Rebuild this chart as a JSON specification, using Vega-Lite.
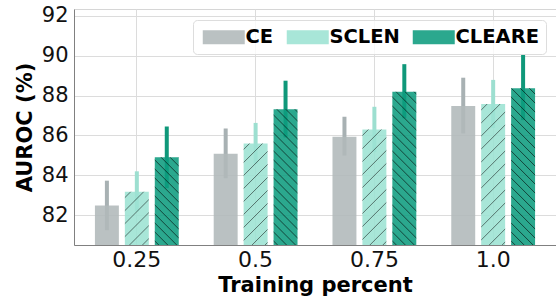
{
  "$schema": "https://vega.github.io/schema/vega-lite/v6.json",
  "autosize": {"type": "none"},
  "width": 482,
  "height": 236,
  "padding": {"left": 74, "top": 9, "right": 0, "bottom": 53},
  "background": "white",
  "config": {
    "view": {"stroke": "#d6d6d6", "strokeWidth": 1},
    "font": "DejaVu Sans"
  },
  "data": {
    "values": [
      {"pct": "0.25", "method": "CE", "mean": 82.48, "lo": 81.24, "hi": 83.73},
      {"pct": "0.25", "method": "SCLEN", "mean": 83.18, "lo": 82.18, "hi": 84.2},
      {"pct": "0.25", "method": "CLEARE", "mean": 84.9, "lo": 83.35, "hi": 86.45},
      {"pct": "0.5", "method": "CE", "mean": 85.08, "lo": 83.85, "hi": 86.35},
      {"pct": "0.5", "method": "SCLEN", "mean": 85.6, "lo": 84.57, "hi": 86.63},
      {"pct": "0.5", "method": "CLEARE", "mean": 87.32, "lo": 85.9, "hi": 88.75},
      {"pct": "0.75", "method": "CE", "mean": 85.93, "lo": 84.99, "hi": 86.94},
      {"pct": "0.75", "method": "SCLEN", "mean": 86.3, "lo": 85.16, "hi": 87.44},
      {"pct": "0.75", "method": "CLEARE", "mean": 88.2, "lo": 86.86, "hi": 89.58},
      {"pct": "1.0", "method": "CE", "mean": 87.48, "lo": 86.1, "hi": 88.9},
      {"pct": "1.0", "method": "SCLEN", "mean": 87.58, "lo": 86.37, "hi": 88.79},
      {"pct": "1.0", "method": "CLEARE", "mean": 88.37, "lo": 86.77, "hi": 90.05}
    ]
  },
  "encoding": {
    "x": {
      "field": "pct", "type": "nominal", "sort": ["0.25", "0.5", "0.75", "1.0"],
      "scale": {"paddingInner": 0.244, "paddingOuter": 0.151},
      "axis": {
        "title": "Training percent", "titleFont": "DejaVu Sans", "titleFontSize": 21, "titleFontWeight": "bold", "titleColor": "#000",
        "titlePadding": 4,
        "labelAngle": 0, "labelFont": "DejaVu Sans", "labelFontSize": 22, "labelColor": "#111", "labelPadding": 4,
        "ticks": false, "grid": true, "bandPosition": 0.5, "gridColor": "#dcdcdc", "gridWidth": 1,
        "domainColor": "#808080", "domainWidth": 1
      }
    },
    "xOffset": {
      "field": "method", "type": "nominal", "sort": ["CE", "SCLEN", "CLEARE"],
      "scale": {"paddingInner": 0.2, "paddingOuter": 0.1}
    }
  },
  "layer": [
    {
      "mark": {"type": "rule", "strokeWidth": 4},
      "encoding": {
        "y": {"field": "lo", "type": "quantitative"},
        "y2": {"field": "hi"},
        "color": {
          "condition": [
            {"test": "datum.method === 'CE'", "value": "#a8b1b3"},
            {"test": "datum.method === 'SCLEN'", "value": "#9ddfd0"}
          ],
          "value": "#0f987a"
        }
      }
    },
    {
      "mark": {"type": "bar", "fillOpacity": 0.88},
      "encoding": {
        "y": {
          "field": "mean", "type": "quantitative",
          "scale": {"domain": [80.5, 92.35], "nice": false, "zero": false},
          "axis": {
            "title": "AUROC (%)", "titleFont": "DejaVu Sans", "titleFontSize": 21, "titleFontWeight": "bold", "titleColor": "#000",
            "titlePadding": 6,
            "values": [82, 84, 86, 88, 90, 92],
            "labelFont": "DejaVu Sans", "labelFontSize": 21, "labelColor": "#111", "labelPadding": 6,
            "ticks": false, "grid": true, "gridColor": "#dcdcdc", "gridWidth": 1,
            "domainColor": "#808080", "domainWidth": 1
          }
        },
        "y2": {"datum": 80.5},
        "fill": {
          "field": "method", "type": "nominal",
          "scale": {"domain": ["CE", "SCLEN", "CLEARE"], "range": ["#b0b8b9", "#9ce3d3", "#0e9c7e"]},
          "legend": {
            "title": null, "orient": "none", "direction": "horizontal",
            "legendX": 119, "legendY": 11,
            "symbolType": "M-1,-1H5V1H-1Z", "symbolSize": 196, "symbolStrokeWidth": 0, "symbolOpacity": 0.88,
            "labelFont": "DejaVu Sans", "labelFontSize": 19.5, "labelFontWeight": "bold", "labelColor": "#000",
            "labelOffset": 26, "columnPadding": 10, "padding": 7,
            "fillColor": "rgba(255,255,255,0.8)", "strokeColor": "#dddddd", "cornerRadius": 4
          }
        }
      }
    },
    {
      "mark": {"type": "bar", "strokeWidth": 0},
      "encoding": {
        "y": {"field": "mean", "type": "quantitative"},
        "y2": {"datum": 80.5},
        "fill": {
          "condition": [
            {"test": "datum.method === 'SCLEN' && datum.pct === '0.25'", "value": {"gradient": "linear", "x1": 0, "y1": 0, "x2": 1.4017, "y2": 3.117, "stops": [
              {"offset": 0, "color": "rgba(0,0,0,0)"},
              {"offset": 0.025, "color": "rgba(0,0,0,0)"}, {"offset": 0.03, "color": "rgba(0,0,0,0.5)"}, {"offset": 0.035, "color": "rgba(0,0,0,0)"},
              {"offset": 0.09, "color": "rgba(0,0,0,0)"}, {"offset": 0.095, "color": "rgba(0,0,0,0.5)"}, {"offset": 0.1, "color": "rgba(0,0,0,0)"},
              {"offset": 0.155, "color": "rgba(0,0,0,0)"}, {"offset": 0.16, "color": "rgba(0,0,0,0.5)"}, {"offset": 0.165, "color": "rgba(0,0,0,0)"},
              {"offset": 0.22, "color": "rgba(0,0,0,0)"}, {"offset": 0.225, "color": "rgba(0,0,0,0.5)"}, {"offset": 0.23, "color": "rgba(0,0,0,0)"},
              {"offset": 0.285, "color": "rgba(0,0,0,0)"}, {"offset": 0.29, "color": "rgba(0,0,0,0.5)"}, {"offset": 0.295, "color": "rgba(0,0,0,0)"},
              {"offset": 0.35, "color": "rgba(0,0,0,0)"}, {"offset": 0.355, "color": "rgba(0,0,0,0.5)"}, {"offset": 0.36, "color": "rgba(0,0,0,0)"},
              {"offset": 0.415, "color": "rgba(0,0,0,0)"}, {"offset": 0.42, "color": "rgba(0,0,0,0.5)"}, {"offset": 0.425, "color": "rgba(0,0,0,0)"},
              {"offset": 0.48, "color": "rgba(0,0,0,0)"}, {"offset": 0.485, "color": "rgba(0,0,0,0.5)"}, {"offset": 0.49, "color": "rgba(0,0,0,0)"},
              {"offset": 1, "color": "rgba(0,0,0,0)"}
            ]}},
            {"test": "datum.method === 'SCLEN' && datum.pct === '0.5'", "value": {"gradient": "linear", "x1": 0, "y1": 0, "x2": 0.44067, "y2": 1.865, "stops": [
              {"offset": 0, "color": "rgba(0,0,0,0)"},
              {"offset": 0.025, "color": "rgba(0,0,0,0)"}, {"offset": 0.03, "color": "rgba(0,0,0,0.5)"}, {"offset": 0.035, "color": "rgba(0,0,0,0)"},
              {"offset": 0.09, "color": "rgba(0,0,0,0)"}, {"offset": 0.095, "color": "rgba(0,0,0,0.5)"}, {"offset": 0.1, "color": "rgba(0,0,0,0)"},
              {"offset": 0.155, "color": "rgba(0,0,0,0)"}, {"offset": 0.16, "color": "rgba(0,0,0,0.5)"}, {"offset": 0.165, "color": "rgba(0,0,0,0)"},
              {"offset": 0.22, "color": "rgba(0,0,0,0)"}, {"offset": 0.225, "color": "rgba(0,0,0,0.5)"}, {"offset": 0.23, "color": "rgba(0,0,0,0)"},
              {"offset": 0.285, "color": "rgba(0,0,0,0)"}, {"offset": 0.29, "color": "rgba(0,0,0,0.5)"}, {"offset": 0.295, "color": "rgba(0,0,0,0)"},
              {"offset": 0.35, "color": "rgba(0,0,0,0)"}, {"offset": 0.355, "color": "rgba(0,0,0,0.5)"}, {"offset": 0.36, "color": "rgba(0,0,0,0)"},
              {"offset": 0.415, "color": "rgba(0,0,0,0)"}, {"offset": 0.42, "color": "rgba(0,0,0,0.5)"}, {"offset": 0.425, "color": "rgba(0,0,0,0)"},
              {"offset": 0.48, "color": "rgba(0,0,0,0)"}, {"offset": 0.485, "color": "rgba(0,0,0,0.5)"}, {"offset": 0.49, "color": "rgba(0,0,0,0)"},
              {"offset": 0.545, "color": "rgba(0,0,0,0)"}, {"offset": 0.55, "color": "rgba(0,0,0,0.5)"}, {"offset": 0.555, "color": "rgba(0,0,0,0)"},
              {"offset": 0.61, "color": "rgba(0,0,0,0)"}, {"offset": 0.615, "color": "rgba(0,0,0,0.5)"}, {"offset": 0.62, "color": "rgba(0,0,0,0)"},
              {"offset": 0.675, "color": "rgba(0,0,0,0)"}, {"offset": 0.68, "color": "rgba(0,0,0,0.5)"}, {"offset": 0.685, "color": "rgba(0,0,0,0)"},
              {"offset": 1, "color": "rgba(0,0,0,0)"}
            ]}},
            {"test": "datum.method === 'SCLEN' && datum.pct === '0.75'", "value": {"gradient": "linear", "x1": 0, "y1": 0, "x2": 0.34486, "y2": 1.6598, "stops": [
              {"offset": 0, "color": "rgba(0,0,0,0)"},
              {"offset": 0.025, "color": "rgba(0,0,0,0)"}, {"offset": 0.03, "color": "rgba(0,0,0,0.5)"}, {"offset": 0.035, "color": "rgba(0,0,0,0)"},
              {"offset": 0.09, "color": "rgba(0,0,0,0)"}, {"offset": 0.095, "color": "rgba(0,0,0,0.5)"}, {"offset": 0.1, "color": "rgba(0,0,0,0)"},
              {"offset": 0.155, "color": "rgba(0,0,0,0)"}, {"offset": 0.16, "color": "rgba(0,0,0,0.5)"}, {"offset": 0.165, "color": "rgba(0,0,0,0)"},
              {"offset": 0.22, "color": "rgba(0,0,0,0)"}, {"offset": 0.225, "color": "rgba(0,0,0,0.5)"}, {"offset": 0.23, "color": "rgba(0,0,0,0)"},
              {"offset": 0.285, "color": "rgba(0,0,0,0)"}, {"offset": 0.29, "color": "rgba(0,0,0,0.5)"}, {"offset": 0.295, "color": "rgba(0,0,0,0)"},
              {"offset": 0.35, "color": "rgba(0,0,0,0)"}, {"offset": 0.355, "color": "rgba(0,0,0,0.5)"}, {"offset": 0.36, "color": "rgba(0,0,0,0)"},
              {"offset": 0.415, "color": "rgba(0,0,0,0)"}, {"offset": 0.42, "color": "rgba(0,0,0,0.5)"}, {"offset": 0.425, "color": "rgba(0,0,0,0)"},
              {"offset": 0.48, "color": "rgba(0,0,0,0)"}, {"offset": 0.485, "color": "rgba(0,0,0,0.5)"}, {"offset": 0.49, "color": "rgba(0,0,0,0)"},
              {"offset": 0.545, "color": "rgba(0,0,0,0)"}, {"offset": 0.55, "color": "rgba(0,0,0,0.5)"}, {"offset": 0.555, "color": "rgba(0,0,0,0)"},
              {"offset": 0.61, "color": "rgba(0,0,0,0)"}, {"offset": 0.615, "color": "rgba(0,0,0,0.5)"}, {"offset": 0.62, "color": "rgba(0,0,0,0)"},
              {"offset": 0.675, "color": "rgba(0,0,0,0)"}, {"offset": 0.68, "color": "rgba(0,0,0,0.5)"}, {"offset": 0.685, "color": "rgba(0,0,0,0)"},
              {"offset": 1, "color": "rgba(0,0,0,0)"}
            ]}},
            {"test": "datum.method === 'SCLEN' && datum.pct === '1.0'", "value": {"gradient": "linear", "x1": 0, "y1": 0, "x2": 0.23461, "y2": 1.3784, "stops": [
              {"offset": 0, "color": "rgba(0,0,0,0)"},
              {"offset": 0.025, "color": "rgba(0,0,0,0)"}, {"offset": 0.03, "color": "rgba(0,0,0,0.5)"}, {"offset": 0.035, "color": "rgba(0,0,0,0)"},
              {"offset": 0.09, "color": "rgba(0,0,0,0)"}, {"offset": 0.095, "color": "rgba(0,0,0,0.5)"}, {"offset": 0.1, "color": "rgba(0,0,0,0)"},
              {"offset": 0.155, "color": "rgba(0,0,0,0)"}, {"offset": 0.16, "color": "rgba(0,0,0,0.5)"}, {"offset": 0.165, "color": "rgba(0,0,0,0)"},
              {"offset": 0.22, "color": "rgba(0,0,0,0)"}, {"offset": 0.225, "color": "rgba(0,0,0,0.5)"}, {"offset": 0.23, "color": "rgba(0,0,0,0)"},
              {"offset": 0.285, "color": "rgba(0,0,0,0)"}, {"offset": 0.29, "color": "rgba(0,0,0,0.5)"}, {"offset": 0.295, "color": "rgba(0,0,0,0)"},
              {"offset": 0.35, "color": "rgba(0,0,0,0)"}, {"offset": 0.355, "color": "rgba(0,0,0,0.5)"}, {"offset": 0.36, "color": "rgba(0,0,0,0)"},
              {"offset": 0.415, "color": "rgba(0,0,0,0)"}, {"offset": 0.42, "color": "rgba(0,0,0,0.5)"}, {"offset": 0.425, "color": "rgba(0,0,0,0)"},
              {"offset": 0.48, "color": "rgba(0,0,0,0)"}, {"offset": 0.485, "color": "rgba(0,0,0,0.5)"}, {"offset": 0.49, "color": "rgba(0,0,0,0)"},
              {"offset": 0.545, "color": "rgba(0,0,0,0)"}, {"offset": 0.55, "color": "rgba(0,0,0,0.5)"}, {"offset": 0.555, "color": "rgba(0,0,0,0)"},
              {"offset": 0.61, "color": "rgba(0,0,0,0)"}, {"offset": 0.615, "color": "rgba(0,0,0,0.5)"}, {"offset": 0.62, "color": "rgba(0,0,0,0)"},
              {"offset": 0.675, "color": "rgba(0,0,0,0)"}, {"offset": 0.68, "color": "rgba(0,0,0,0.5)"}, {"offset": 0.685, "color": "rgba(0,0,0,0)"},
              {"offset": 0.74, "color": "rgba(0,0,0,0)"}, {"offset": 0.745, "color": "rgba(0,0,0,0.5)"}, {"offset": 0.75, "color": "rgba(0,0,0,0)"},
              {"offset": 0.805, "color": "rgba(0,0,0,0)"}, {"offset": 0.81, "color": "rgba(0,0,0,0.5)"}, {"offset": 0.815, "color": "rgba(0,0,0,0)"},
              {"offset": 1, "color": "rgba(0,0,0,0)"}
            ]}},
            {"test": "datum.method === 'CLEARE' && datum.pct === '0.25'", "value": {"gradient": "linear", "x1": 0, "y1": 1, "x2": 0.58146, "y2": -1.1231, "stops": [
              {"offset": 0, "color": "rgba(0,0,0,0)"},
              {"offset": 0.015, "color": "rgba(0,0,0,0)"}, {"offset": 0.02, "color": "rgba(0,0,0,0.6)"}, {"offset": 0.025, "color": "rgba(0,0,0,0)"},
              {"offset": 0.06, "color": "rgba(0,0,0,0)"}, {"offset": 0.065, "color": "rgba(0,0,0,0.6)"}, {"offset": 0.07, "color": "rgba(0,0,0,0)"},
              {"offset": 0.105, "color": "rgba(0,0,0,0)"}, {"offset": 0.11, "color": "rgba(0,0,0,0.6)"}, {"offset": 0.115, "color": "rgba(0,0,0,0)"},
              {"offset": 0.15, "color": "rgba(0,0,0,0)"}, {"offset": 0.155, "color": "rgba(0,0,0,0.6)"}, {"offset": 0.16, "color": "rgba(0,0,0,0)"},
              {"offset": 0.195, "color": "rgba(0,0,0,0)"}, {"offset": 0.2, "color": "rgba(0,0,0,0.6)"}, {"offset": 0.205, "color": "rgba(0,0,0,0)"},
              {"offset": 0.24, "color": "rgba(0,0,0,0)"}, {"offset": 0.245, "color": "rgba(0,0,0,0.6)"}, {"offset": 0.25, "color": "rgba(0,0,0,0)"},
              {"offset": 0.285, "color": "rgba(0,0,0,0)"}, {"offset": 0.29, "color": "rgba(0,0,0,0.6)"}, {"offset": 0.295, "color": "rgba(0,0,0,0)"},
              {"offset": 0.33, "color": "rgba(0,0,0,0)"}, {"offset": 0.335, "color": "rgba(0,0,0,0.6)"}, {"offset": 0.34, "color": "rgba(0,0,0,0)"},
              {"offset": 0.375, "color": "rgba(0,0,0,0)"}, {"offset": 0.38, "color": "rgba(0,0,0,0.6)"}, {"offset": 0.385, "color": "rgba(0,0,0,0)"},
              {"offset": 0.42, "color": "rgba(0,0,0,0)"}, {"offset": 0.425, "color": "rgba(0,0,0,0.6)"}, {"offset": 0.43, "color": "rgba(0,0,0,0)"},
              {"offset": 0.465, "color": "rgba(0,0,0,0)"}, {"offset": 0.47, "color": "rgba(0,0,0,0.6)"}, {"offset": 0.475, "color": "rgba(0,0,0,0)"},
              {"offset": 0.51, "color": "rgba(0,0,0,0)"}, {"offset": 0.515, "color": "rgba(0,0,0,0.6)"}, {"offset": 0.52, "color": "rgba(0,0,0,0)"},
              {"offset": 0.555, "color": "rgba(0,0,0,0)"}, {"offset": 0.56, "color": "rgba(0,0,0,0.6)"}, {"offset": 0.565, "color": "rgba(0,0,0,0)"},
              {"offset": 1, "color": "rgba(0,0,0,0)"}
            ]}},
            {"test": "datum.method === 'CLEARE' && datum.pct === '0.5'", "value": {"gradient": "linear", "x1": 0, "y1": 1, "x2": 0.25229, "y2": -0.4279, "stops": [
              {"offset": 0, "color": "rgba(0,0,0,0)"},
              {"offset": 0.015, "color": "rgba(0,0,0,0)"}, {"offset": 0.02, "color": "rgba(0,0,0,0.6)"}, {"offset": 0.025, "color": "rgba(0,0,0,0)"},
              {"offset": 0.06, "color": "rgba(0,0,0,0)"}, {"offset": 0.065, "color": "rgba(0,0,0,0.6)"}, {"offset": 0.07, "color": "rgba(0,0,0,0)"},
              {"offset": 0.105, "color": "rgba(0,0,0,0)"}, {"offset": 0.11, "color": "rgba(0,0,0,0.6)"}, {"offset": 0.115, "color": "rgba(0,0,0,0)"},
              {"offset": 0.15, "color": "rgba(0,0,0,0)"}, {"offset": 0.155, "color": "rgba(0,0,0,0.6)"}, {"offset": 0.16, "color": "rgba(0,0,0,0)"},
              {"offset": 0.195, "color": "rgba(0,0,0,0)"}, {"offset": 0.2, "color": "rgba(0,0,0,0.6)"}, {"offset": 0.205, "color": "rgba(0,0,0,0)"},
              {"offset": 0.24, "color": "rgba(0,0,0,0)"}, {"offset": 0.245, "color": "rgba(0,0,0,0.6)"}, {"offset": 0.25, "color": "rgba(0,0,0,0)"},
              {"offset": 0.285, "color": "rgba(0,0,0,0)"}, {"offset": 0.29, "color": "rgba(0,0,0,0.6)"}, {"offset": 0.295, "color": "rgba(0,0,0,0)"},
              {"offset": 0.33, "color": "rgba(0,0,0,0)"}, {"offset": 0.335, "color": "rgba(0,0,0,0.6)"}, {"offset": 0.34, "color": "rgba(0,0,0,0)"},
              {"offset": 0.375, "color": "rgba(0,0,0,0)"}, {"offset": 0.38, "color": "rgba(0,0,0,0.6)"}, {"offset": 0.385, "color": "rgba(0,0,0,0)"},
              {"offset": 0.42, "color": "rgba(0,0,0,0)"}, {"offset": 0.425, "color": "rgba(0,0,0,0.6)"}, {"offset": 0.43, "color": "rgba(0,0,0,0)"},
              {"offset": 0.465, "color": "rgba(0,0,0,0)"}, {"offset": 0.47, "color": "rgba(0,0,0,0.6)"}, {"offset": 0.475, "color": "rgba(0,0,0,0)"},
              {"offset": 0.51, "color": "rgba(0,0,0,0)"}, {"offset": 0.515, "color": "rgba(0,0,0,0.6)"}, {"offset": 0.52, "color": "rgba(0,0,0,0)"},
              {"offset": 0.555, "color": "rgba(0,0,0,0)"}, {"offset": 0.56, "color": "rgba(0,0,0,0.6)"}, {"offset": 0.565, "color": "rgba(0,0,0,0)"},
              {"offset": 0.6, "color": "rgba(0,0,0,0)"}, {"offset": 0.605, "color": "rgba(0,0,0,0.6)"}, {"offset": 0.61, "color": "rgba(0,0,0,0)"},
              {"offset": 0.645, "color": "rgba(0,0,0,0)"}, {"offset": 0.65, "color": "rgba(0,0,0,0.6)"}, {"offset": 0.655, "color": "rgba(0,0,0,0)"},
              {"offset": 0.69, "color": "rgba(0,0,0,0)"}, {"offset": 0.695, "color": "rgba(0,0,0,0.6)"}, {"offset": 0.7, "color": "rgba(0,0,0,0)"},
              {"offset": 0.735, "color": "rgba(0,0,0,0)"}, {"offset": 0.74, "color": "rgba(0,0,0,0.6)"}, {"offset": 0.745, "color": "rgba(0,0,0,0)"},
              {"offset": 0.78, "color": "rgba(0,0,0,0)"}, {"offset": 0.785, "color": "rgba(0,0,0,0.6)"}, {"offset": 0.79, "color": "rgba(0,0,0,0)"},
              {"offset": 1, "color": "rgba(0,0,0,0)"}
            ]}},
            {"test": "datum.method === 'CLEARE' && datum.pct === '0.75'", "value": {"gradient": "linear", "x1": 0, "y1": 1, "x2": 0.19924, "y2": -0.2731, "stops": [
              {"offset": 0, "color": "rgba(0,0,0,0)"},
              {"offset": 0.015, "color": "rgba(0,0,0,0)"}, {"offset": 0.02, "color": "rgba(0,0,0,0.6)"}, {"offset": 0.025, "color": "rgba(0,0,0,0)"},
              {"offset": 0.06, "color": "rgba(0,0,0,0)"}, {"offset": 0.065, "color": "rgba(0,0,0,0.6)"}, {"offset": 0.07, "color": "rgba(0,0,0,0)"},
              {"offset": 0.105, "color": "rgba(0,0,0,0)"}, {"offset": 0.11, "color": "rgba(0,0,0,0.6)"}, {"offset": 0.115, "color": "rgba(0,0,0,0)"},
              {"offset": 0.15, "color": "rgba(0,0,0,0)"}, {"offset": 0.155, "color": "rgba(0,0,0,0.6)"}, {"offset": 0.16, "color": "rgba(0,0,0,0)"},
              {"offset": 0.195, "color": "rgba(0,0,0,0)"}, {"offset": 0.2, "color": "rgba(0,0,0,0.6)"}, {"offset": 0.205, "color": "rgba(0,0,0,0)"},
              {"offset": 0.24, "color": "rgba(0,0,0,0)"}, {"offset": 0.245, "color": "rgba(0,0,0,0.6)"}, {"offset": 0.25, "color": "rgba(0,0,0,0)"},
              {"offset": 0.285, "color": "rgba(0,0,0,0)"}, {"offset": 0.29, "color": "rgba(0,0,0,0.6)"}, {"offset": 0.295, "color": "rgba(0,0,0,0)"},
              {"offset": 0.33, "color": "rgba(0,0,0,0)"}, {"offset": 0.335, "color": "rgba(0,0,0,0.6)"}, {"offset": 0.34, "color": "rgba(0,0,0,0)"},
              {"offset": 0.375, "color": "rgba(0,0,0,0)"}, {"offset": 0.38, "color": "rgba(0,0,0,0.6)"}, {"offset": 0.385, "color": "rgba(0,0,0,0)"},
              {"offset": 0.42, "color": "rgba(0,0,0,0)"}, {"offset": 0.425, "color": "rgba(0,0,0,0.6)"}, {"offset": 0.43, "color": "rgba(0,0,0,0)"},
              {"offset": 0.465, "color": "rgba(0,0,0,0)"}, {"offset": 0.47, "color": "rgba(0,0,0,0.6)"}, {"offset": 0.475, "color": "rgba(0,0,0,0)"},
              {"offset": 0.51, "color": "rgba(0,0,0,0)"}, {"offset": 0.515, "color": "rgba(0,0,0,0.6)"}, {"offset": 0.52, "color": "rgba(0,0,0,0)"},
              {"offset": 0.555, "color": "rgba(0,0,0,0)"}, {"offset": 0.56, "color": "rgba(0,0,0,0.6)"}, {"offset": 0.565, "color": "rgba(0,0,0,0)"},
              {"offset": 0.6, "color": "rgba(0,0,0,0)"}, {"offset": 0.605, "color": "rgba(0,0,0,0.6)"}, {"offset": 0.61, "color": "rgba(0,0,0,0)"},
              {"offset": 0.645, "color": "rgba(0,0,0,0)"}, {"offset": 0.65, "color": "rgba(0,0,0,0.6)"}, {"offset": 0.655, "color": "rgba(0,0,0,0)"},
              {"offset": 0.69, "color": "rgba(0,0,0,0)"}, {"offset": 0.695, "color": "rgba(0,0,0,0.6)"}, {"offset": 0.7, "color": "rgba(0,0,0,0)"},
              {"offset": 0.735, "color": "rgba(0,0,0,0)"}, {"offset": 0.74, "color": "rgba(0,0,0,0.6)"}, {"offset": 0.745, "color": "rgba(0,0,0,0)"},
              {"offset": 0.78, "color": "rgba(0,0,0,0)"}, {"offset": 0.785, "color": "rgba(0,0,0,0.6)"}, {"offset": 0.79, "color": "rgba(0,0,0,0)"},
              {"offset": 0.825, "color": "rgba(0,0,0,0)"}, {"offset": 0.83, "color": "rgba(0,0,0,0.6)"}, {"offset": 0.835, "color": "rgba(0,0,0,0)"},
              {"offset": 0.87, "color": "rgba(0,0,0,0)"}, {"offset": 0.875, "color": "rgba(0,0,0,0.6)"}, {"offset": 0.88, "color": "rgba(0,0,0,0)"},
              {"offset": 1, "color": "rgba(0,0,0,0)"}
            ]}},
            {"test": "datum.method === 'CLEARE' && datum.pct === '1.0'", "value": {"gradient": "linear", "x1": 0, "y1": 1, "x2": 0.1909, "y2": -0.2467, "stops": [
              {"offset": 0, "color": "rgba(0,0,0,0)"},
              {"offset": 0.015, "color": "rgba(0,0,0,0)"}, {"offset": 0.02, "color": "rgba(0,0,0,0.6)"}, {"offset": 0.025, "color": "rgba(0,0,0,0)"},
              {"offset": 0.06, "color": "rgba(0,0,0,0)"}, {"offset": 0.065, "color": "rgba(0,0,0,0.6)"}, {"offset": 0.07, "color": "rgba(0,0,0,0)"},
              {"offset": 0.105, "color": "rgba(0,0,0,0)"}, {"offset": 0.11, "color": "rgba(0,0,0,0.6)"}, {"offset": 0.115, "color": "rgba(0,0,0,0)"},
              {"offset": 0.15, "color": "rgba(0,0,0,0)"}, {"offset": 0.155, "color": "rgba(0,0,0,0.6)"}, {"offset": 0.16, "color": "rgba(0,0,0,0)"},
              {"offset": 0.195, "color": "rgba(0,0,0,0)"}, {"offset": 0.2, "color": "rgba(0,0,0,0.6)"}, {"offset": 0.205, "color": "rgba(0,0,0,0)"},
              {"offset": 0.24, "color": "rgba(0,0,0,0)"}, {"offset": 0.245, "color": "rgba(0,0,0,0.6)"}, {"offset": 0.25, "color": "rgba(0,0,0,0)"},
              {"offset": 0.285, "color": "rgba(0,0,0,0)"}, {"offset": 0.29, "color": "rgba(0,0,0,0.6)"}, {"offset": 0.295, "color": "rgba(0,0,0,0)"},
              {"offset": 0.33, "color": "rgba(0,0,0,0)"}, {"offset": 0.335, "color": "rgba(0,0,0,0.6)"}, {"offset": 0.34, "color": "rgba(0,0,0,0)"},
              {"offset": 0.375, "color": "rgba(0,0,0,0)"}, {"offset": 0.38, "color": "rgba(0,0,0,0.6)"}, {"offset": 0.385, "color": "rgba(0,0,0,0)"},
              {"offset": 0.42, "color": "rgba(0,0,0,0)"}, {"offset": 0.425, "color": "rgba(0,0,0,0.6)"}, {"offset": 0.43, "color": "rgba(0,0,0,0)"},
              {"offset": 0.465, "color": "rgba(0,0,0,0)"}, {"offset": 0.47, "color": "rgba(0,0,0,0.6)"}, {"offset": 0.475, "color": "rgba(0,0,0,0)"},
              {"offset": 0.51, "color": "rgba(0,0,0,0)"}, {"offset": 0.515, "color": "rgba(0,0,0,0.6)"}, {"offset": 0.52, "color": "rgba(0,0,0,0)"},
              {"offset": 0.555, "color": "rgba(0,0,0,0)"}, {"offset": 0.56, "color": "rgba(0,0,0,0.6)"}, {"offset": 0.565, "color": "rgba(0,0,0,0)"},
              {"offset": 0.6, "color": "rgba(0,0,0,0)"}, {"offset": 0.605, "color": "rgba(0,0,0,0.6)"}, {"offset": 0.61, "color": "rgba(0,0,0,0)"},
              {"offset": 0.645, "color": "rgba(0,0,0,0)"}, {"offset": 0.65, "color": "rgba(0,0,0,0.6)"}, {"offset": 0.655, "color": "rgba(0,0,0,0)"},
              {"offset": 0.69, "color": "rgba(0,0,0,0)"}, {"offset": 0.695, "color": "rgba(0,0,0,0.6)"}, {"offset": 0.7, "color": "rgba(0,0,0,0)"},
              {"offset": 0.735, "color": "rgba(0,0,0,0)"}, {"offset": 0.74, "color": "rgba(0,0,0,0.6)"}, {"offset": 0.745, "color": "rgba(0,0,0,0)"},
              {"offset": 0.78, "color": "rgba(0,0,0,0)"}, {"offset": 0.785, "color": "rgba(0,0,0,0.6)"}, {"offset": 0.79, "color": "rgba(0,0,0,0)"},
              {"offset": 0.825, "color": "rgba(0,0,0,0)"}, {"offset": 0.83, "color": "rgba(0,0,0,0.6)"}, {"offset": 0.835, "color": "rgba(0,0,0,0)"},
              {"offset": 0.87, "color": "rgba(0,0,0,0)"}, {"offset": 0.875, "color": "rgba(0,0,0,0.6)"}, {"offset": 0.88, "color": "rgba(0,0,0,0)"},
              {"offset": 0.915, "color": "rgba(0,0,0,0)"}, {"offset": 0.92, "color": "rgba(0,0,0,0.6)"}, {"offset": 0.925, "color": "rgba(0,0,0,0)"},
              {"offset": 1, "color": "rgba(0,0,0,0)"}
            ]}}
          ],
          "value": "rgba(0,0,0,0)"
        }
      }
    }
  ]
}
